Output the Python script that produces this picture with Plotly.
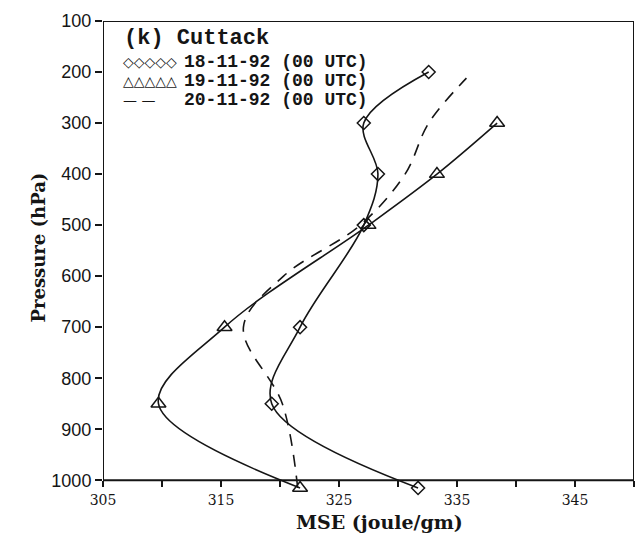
import plotly.graph_objects as go

# Moist static energy profiles at Cuttack, November 1992
pressure_levels = [1015, 850, 700, 500, 400, 300, 200]

mse_18 = [331.7, 319.3, 321.7, 327.1, 328.3, 327.1, 332.6]          # 18-11-92
mse_19_levels = [1015, 850, 700, 500, 400, 300]
mse_19 = [321.7, 309.7, 315.3, 327.5, 333.3, 338.4]                 # 19-11-92
mse_20_levels = [1015, 850, 700, 600, 500, 400, 300, 212]
mse_20 = [321.5, 320.2, 316.9, 320.3, 326.8, 330.6, 332.6, 335.8]   # 20-11-92

series_labels = ["18-11-92 (00 UTC)", "19-11-92 (00 UTC)", "20-11-92 (00 UTC)"]
panel_title = "(k) Cuttack"

y_ticks = [100, 200, 300, 400, 500, 600, 700, 800, 900, 1000]
x_ticks = [305, 310, 315, 320, 325, 330, 335, 340, 345, 350]
x_ticktext = ["305", "", "315", "", "325", "", "335", "", "345", ""]

W, H = 635, 550
ML, MR, MT, MB = 103, 1, 21, 58
Y_TOP, Y_BOT = 100, 1023
X_MIN, X_MAX = 305, 350

INK = "#151515"


def px(xpix):
    return (xpix - ML) / (W - ML - MR)


def py(ypix):
    return (H - MB - ypix) / (H - MT - MB)


fig = go.Figure()

fig.add_trace(go.Scatter(
    x=mse_18, y=pressure_levels, mode="lines+markers",
    line=dict(color=INK, width=1.6, shape="spline", smoothing=1.0),
    marker=dict(symbol="diamond-open", size=10, color=INK, line=dict(width=1.5)),
    cliponaxis=False, showlegend=False,
))
fig.add_trace(go.Scatter(
    x=mse_19, y=mse_19_levels, mode="lines+markers",
    line=dict(color=INK, width=1.6, shape="spline", smoothing=1.0),
    marker=dict(symbol="triangle-up-open", size=13, color=INK, line=dict(width=1.5)),
    cliponaxis=False, showlegend=False,
))
fig.add_trace(go.Scatter(
    x=mse_20, y=mse_20_levels, mode="lines",
    line=dict(color=INK, width=1.6, shape="spline", smoothing=1.0, dash="12px,9px"),
    cliponaxis=False, showlegend=False,
))

# frame of the panel
fig.add_shape(type="rect", xref="x", yref="y", x0=X_MIN, x1=X_MAX, y0=Y_TOP, y1=1000,
              line=dict(color=INK, width=2))

serif_bold = "DejaVu Serif"
mono = "Liberation Mono"

# legend block
fig.add_annotation(x=px(122), y=py(38), xref="paper", yref="paper", xanchor="left", yanchor="middle",
                   text="<b>" + panel_title + "</b>", showarrow=False,
                   font=dict(family=mono, size=22, color=INK))
legend_glyphs = ["◇◇◇◇◇", "△△△△△", "— —"]
legend_rows = [62, 81, 100]
for glyph, label, row in zip(legend_glyphs, series_labels, legend_rows):
    fig.add_annotation(x=px(121), y=py(row), xref="paper", yref="paper", xanchor="left", yanchor="middle",
                       text=glyph, showarrow=False,
                       font=dict(family="DejaVu Sans", size=14, color=INK))
    fig.add_annotation(x=px(182), y=py(row), xref="paper", yref="paper", xanchor="left", yanchor="middle",
                       text="<b>" + label + "</b>", showarrow=False,
                       font=dict(family=mono, size=18, color=INK))

# axis titles
fig.add_annotation(x=px(25), y=py(248), xref="paper", yref="paper", textangle=-90,
                   text="<b>Pressure (hPa)</b>", showarrow=False,
                   font=dict(family=serif_bold, size=18, color=INK))
fig.add_annotation(x=px(379), y=py(535), xref="paper", yref="paper",
                   text="<b>MSE (joule/gm)</b>", showarrow=False,
                   font=dict(family=serif_bold, size=19, color=INK))

fig.update_layout(
    width=W, height=H,
    margin=dict(l=ML, r=MR, t=MT, b=MB),
    paper_bgcolor="white", plot_bgcolor="white",
    xaxis=dict(
        range=[X_MIN, X_MAX], tickvals=x_ticks, ticktext=x_ticktext,
        anchor="free", position=(Y_BOT - 1000) / (Y_BOT - Y_TOP),
        showline=False, showgrid=False, zeroline=False,
        ticks="outside", ticklen=6, tickwidth=1.5, tickcolor=INK,
        ticklabelstandoff=1,
        tickfont=dict(family=serif_bold, size=14, color=INK),
    ),
    yaxis=dict(
        range=[Y_BOT, Y_TOP], tickvals=y_ticks,
        showline=False, showgrid=False, zeroline=False,
        ticks="outside", ticklen=7, tickwidth=1.5, tickcolor=INK,
        tickfont=dict(family="Liberation Sans", size=18, color=INK),
    ),
)

fig.write_html("out.html")
